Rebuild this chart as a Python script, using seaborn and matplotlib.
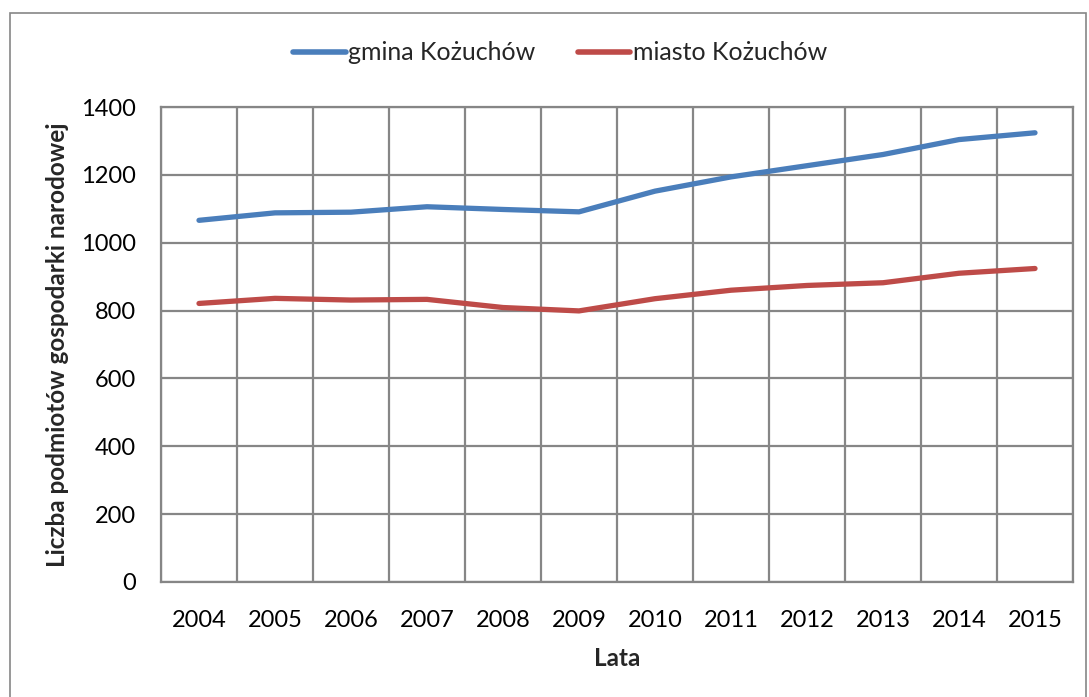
import numpy as np
import pandas as pd
import matplotlib
matplotlib.use("Agg")
import matplotlib.pyplot as plt
import seaborn as sns
from matplotlib.patches import Rectangle
from matplotlib.ticker import MultipleLocator, FixedLocator

years = ["2004", "2005", "2006", "2007", "2008", "2009", "2010", "2011", "2012", "2013", "2014", "2015"]
gmina = [1066, 1088, 1090, 1106, 1098, 1091, 1152, 1194, 1227, 1260, 1304, 1324]
miasto = [821, 836, 831, 833, 809, 799, 835, 860, 874, 882, 910, 924]
series_names = ["gmina Kożuchów", "miasto Kożuchów"]
colors = ["#4a7ebb", "#be4b48"]

df = pd.DataFrame({
    "pos": list(range(len(years))) * 2,
    "value": gmina + miasto,
    "series": [series_names[0]] * len(years) + [series_names[1]] * len(years),
})

sns.set_style("white")
plt.rcParams["font.family"] = ["Lato", "DejaVu Sans"]

fig = plt.figure(figsize=(10.89, 6.97), dpi=100)
ax = fig.add_axes([161 / 1089, 1 - 582 / 697, (1073 - 161) / 1089, (582 - 107) / 697])

sns.lineplot(data=df, x="pos", y="value", hue="series", palette=colors,
             linewidth=3.8, ax=ax, legend=True, solid_capstyle="round")

ax.set_xlim(-0.5, len(years) - 0.5)
ax.set_ylim(0, 1400)
ax.yaxis.set_major_locator(MultipleLocator(200))
ax.set_xticks(range(len(years)))
ax.set_xticklabels(years)
ax.xaxis.set_minor_locator(FixedLocator(np.arange(-0.5, len(years), 1.0)))

gridc = "#868686"
ax.grid(True, axis="y", which="major", color=gridc, linewidth=1.6)
ax.grid(True, axis="x", which="minor", color=gridc, linewidth=1.6)
ax.grid(False, axis="x", which="major")
ax.set_axisbelow(True)
for s in ax.spines.values():
    s.set_color(gridc)
    s.set_linewidth(1.6)

ax.tick_params(axis="x", which="both", length=0, labelsize=17, pad=20, colors="black")
ax.tick_params(axis="y", which="major", length=6, width=1.6, color=gridc, labelsize=17, pad=12,
               labelcolor="black", direction="out")

ax.set_xlabel("Lata", fontsize=17.5, fontweight="bold", labelpad=12)
ax.set_ylabel("Liczba podmiotów gospodarki narodowej", fontsize=17.5, fontweight="bold", labelpad=9)

leg = fig.legend(handles=ax.get_legend_handles_labels()[0], labels=series_names,
                 loc="center", bbox_to_anchor=(560 / 1089, 1 - 53 / 697), ncol=2, frameon=False,
                 fontsize=18, handlelength=2.1, handletextpad=0.1, columnspacing=1.7)
ax.get_legend().remove()
for line in leg.get_lines():
    line.set_linewidth(4)

fig.patches.append(Rectangle((10 / 1089, -0.05), (1086 - 10) / 1089, 1 - 13 / 697 + 0.05,
                             transform=fig.transFigure, fill=False, edgecolor=gridc, linewidth=1.2))

fig.savefig("out.png", dpi=100)
